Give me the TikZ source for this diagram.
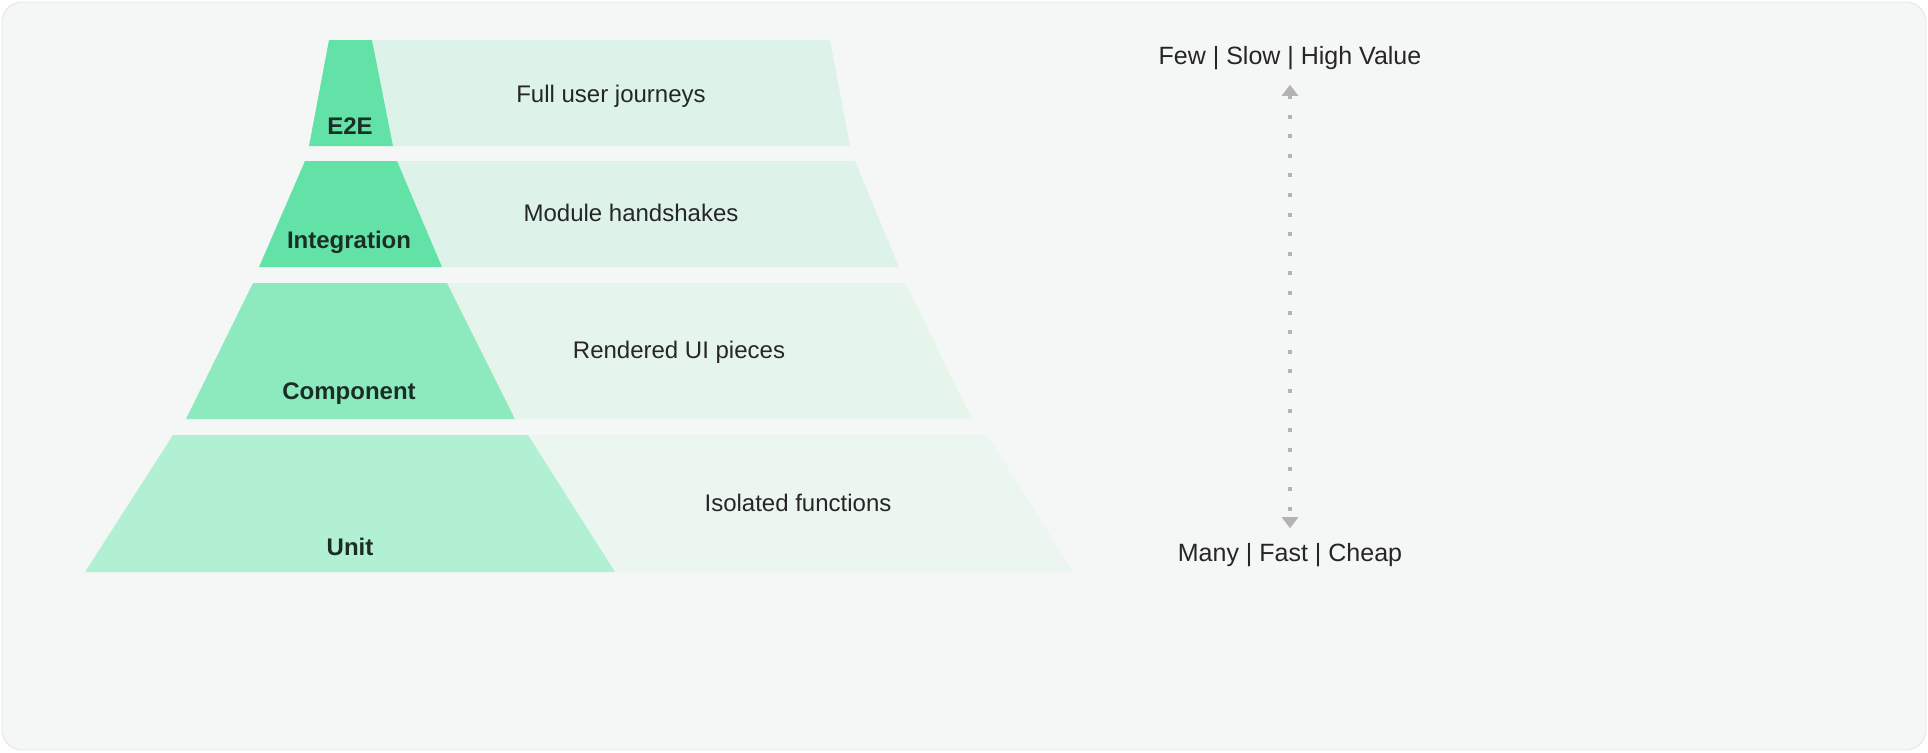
\documentclass[tikz,border=0pt]{standalone}
\usepackage{fontspec}
\setmainfont{Liberation Sans}
\usetikzlibrary{arrows.meta}
\definecolor{bgpanel}{HTML}{F5F7F6}
\definecolor{bgline}{HTML}{E2E4E3}
\definecolor{darkA}{HTML}{63E2A8}
\definecolor{darkB}{HTML}{8DE9BE}
\definecolor{darkC}{HTML}{B1F0D3}
\definecolor{lightA}{HTML}{DDF3E9}
\definecolor{lightB}{HTML}{E5F5EC}
\definecolor{lightC}{HTML}{EAF6EF}
\definecolor{inkdark}{HTML}{1B2E26}
\definecolor{arrowgray}{HTML}{B3B3B3}
\tikzset{
  tiername/.style={font=\fontsize{12}{14}\selectfont\bfseries, text=inkdark},
  tierdesc/.style={font=\fontsize{12}{14}\selectfont, text=black!85},
  axislabel/.style={font=\fontsize{12.5}{15}\selectfont, text=black!85},
}
\begin{document}
\begin{tikzpicture}[x=0.5pt,y=-0.5pt,>={Triangle[width=8pt,length=5.5pt]}]
\useasboundingbox (0,0) rectangle (1928,752);
\draw[bgline,fill=bgpanel,rounded corners=10pt] (2,2) rectangle (1926,750);
% tiers: light part first, dark part on top
\fill[lightA] (372,40) -- (830,40) -- (850,146) -- (393,146) -- cycle;
\fill[darkA]  (329,40) -- (372,40) -- (393,146) -- (309,146) -- cycle;
\fill[lightA] (397,161) -- (855,161) -- (899,267) -- (442,267) -- cycle;
\fill[darkA]  (305,161) -- (397,161) -- (442,267) -- (259,267) -- cycle;
\fill[lightB] (447,283) -- (905,283) -- (972,419) -- (515,419) -- cycle;
\fill[darkB]  (253,283) -- (447,283) -- (515,419) -- (186,419) -- cycle;
\fill[lightC] (528,435) -- (987,435) -- (1073,572) -- (615,572) -- cycle;
\fill[darkC]  (173,435) -- (528,435) -- (615,572) -- (85,572) -- cycle;
% labels
\node (e2e)   at (350,126) [tiername] {E2E};
\node (integ) at (349,242) [tiername] {Integration};
\node (comp)  at (349,394) [tiername] {Component};
\node (unit)  at (350,547) [tiername] {Unit};
\node (e2edesc)   at (611,96)  [tierdesc] {Full user journeys};
\node (integdesc) at (631,213) [tierdesc] {Module handshakes};
\node (compdesc)  at (679,352) [tierdesc] {Rendered UI pieces};
\node (unitdesc)  at (798,503) [tierdesc] {Isolated functions};
% axis
\node (few)  at (1290,58)  [axislabel] {Few | Slow | High Value};
\node (many) at (1290,555) [axislabel] {Many | Fast | Cheap};
\draw [<->, arrowgray, line width=2pt, dash pattern=on 2pt off 7.8pt,
  shorten <=4pt, shorten >=4pt] (few) -- (many);
\end{tikzpicture}
\end{document}
